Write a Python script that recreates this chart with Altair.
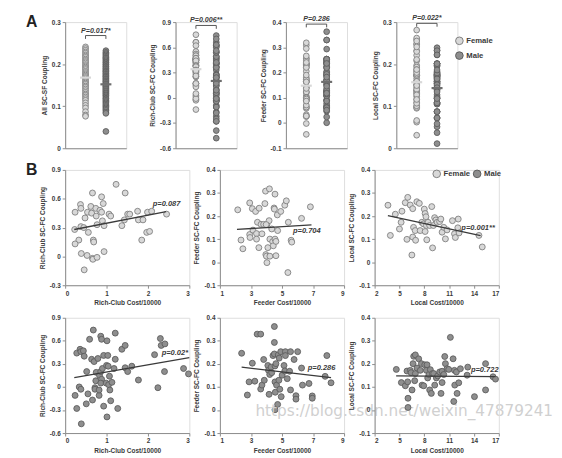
import altair as alt
import pandas as pd

# ---------------- data ----------------
# Panel A: strip plots (Female / Male)
all_female = [0.241, 0.237, 0.233, 0.229, 0.226, 0.222, 0.219, 0.216, 0.212, 0.209, 0.206, 0.203,
              0.199, 0.196, 0.193, 0.190, 0.187, 0.183, 0.180, 0.177, 0.174, 0.171, 0.168, 0.165,
              0.161, 0.158, 0.155, 0.152, 0.148, 0.145, 0.141, 0.137, 0.133, 0.129, 0.126, 0.122,
              0.118, 0.114, 0.108, 0.102, 0.096, 0.087, 0.079, 0.076]
all_male = [0.232, 0.228, 0.225, 0.222, 0.219, 0.216, 0.214, 0.211, 0.208, 0.205, 0.203, 0.200,
            0.198, 0.195, 0.193, 0.190, 0.188, 0.185, 0.183, 0.181, 0.178, 0.176, 0.173, 0.171,
            0.169, 0.166, 0.164, 0.161, 0.159, 0.157, 0.154, 0.152, 0.149, 0.147, 0.145, 0.142,
            0.140, 0.137, 0.135, 0.132, 0.130, 0.127, 0.125, 0.122, 0.119, 0.117, 0.114, 0.111,
            0.108, 0.105, 0.102, 0.099, 0.096, 0.093, 0.090, 0.086, 0.083, 0.040]

# Panel B: Female scatter (Rich-Club / Feeder / Local)
rc_f_x = [1.23, 0.66, 1.45, 0.88, 0.37, 0.92, 0.62, 0.74, 0.84, 0.24, 0.54, 0.64, 0.88, 0.38, 0.48,
          0.75, 1.06, 1.10, 1.51, 1.56, 1.75, 1.99, 2.09, 2.45, 1.43, 1.77, 1.88, 0.90, 0.77, 0.94,
          0.38, 0.45, 0.23, 1.37, 0.56, 1.97, 2.04, 0.33, 0.68, 0.69, 0.24, 1.85, 0.39, 0.53, 0.66,
          0.67, 0.77, 0.94, 0.46]
rc_f_y = [0.75, 0.66, 0.66, 0.62, 0.54, 0.55, 0.52, 0.50, 0.48, 0.46, 0.46, 0.45, 0.46, 0.50, 0.40,
          0.42, 0.44, 0.42, 0.44, 0.44, 0.47, 0.46, 0.47, 0.44, 0.38, 0.38, 0.38, 0.37, 0.33, 0.32,
          0.31, 0.30, 0.28, 0.32, 0.25, 0.25, 0.26, 0.17, 0.17, 0.15, 0.13, 0.17, 0.03, 0.01, -0.02,
          -0.03, -0.01, 0.05, -0.14]
fd_f_x = [2.15, 2.92, 2.36, 2.48, 3.09, 3.30, 3.53, 2.92, 2.94, 3.13, 3.42, 3.36, 3.36, 3.51, 3.65,
          3.71, 3.82, 3.90, 3.94, 4.19, 3.96, 4.00, 4.03, 4.09, 4.22, 4.03, 4.17, 4.22, 4.34, 4.40,
          4.44, 4.49, 4.51, 4.55, 4.55, 4.61, 4.61, 4.70, 4.72, 4.92, 5.18, 5.28, 5.41, 5.38, 5.59,
          5.63, 6.26, 6.83, 3.98]
fd_f_y = [0.227, 0.257, 0.096, 0.058, 0.232, 0.220, 0.234, 0.120, 0.107, 0.139, 0.173, 0.124, 0.100,
          0.063, 0.164, 0.123, 0.164, 0.254, 0.308, 0.318, 0.033, 0.026, -0.002, 0.063, 0.026, 0.164,
          0.180, 0.100, 0.144, 0.089, 0.071, 0.235, 0.230, 0.295, 0.100, 0.028, 0.090, 0.205, 0.137,
          0.220, 0.247, 0.266, 0.173, -0.045, 0.095, 0.087, 0.190, 0.240, 0.163]
lc_f_x = [3.61, 3.9, 4.5, 5.3, 5.0, 5.2, 5.7, 5.9, 6.0, 6.3, 6.6, 6.5, 6.6, 6.7, 6.9, 6.95, 7.1, 7.4,
          7.5, 7.7, 7.9, 8.0, 8.1, 8.1, 8.2, 8.25, 8.3, 8.45, 8.65, 8.9, 9.0, 9.1, 9.25, 9.4, 9.55,
          9.85, 10.0, 10.15, 10.35, 10.55, 10.75, 11.4, 11.65, 11.75, 12.1, 12.05, 12.2, 14.6, 15.0]
lc_f_y = [0.247, 0.116, 0.208, 0.221, 0.144, 0.173, 0.258, 0.099, 0.281, 0.248, 0.232, 0.031, 0.109,
          0.151, 0.137, 0.095, 0.262, 0.255, 0.137, 0.173, 0.166, 0.23, 0.211, 0.133, 0.197, 0.159,
          0.097, 0.173, 0.159, 0.241, 0.062, 0.159, 0.193, 0.183, 0.173, 0.176, 0.187, 0.13, 0.151,
          0.101, 0.14, 0.18, 0.123, 0.107, 0.187, 0.149, 0.127, 0.116, 0.066]

# Panel B: Male scatter
rc_m_x = [0.24, 0.28, 0.28, 0.36, 0.38, 0.44, 0.46, 0.34, 0.38, 0.39, 0.52, 0.55, 0.51, 0.59, 0.64,
          0.66, 0.68, 0.70, 0.72, 0.72, 0.74, 0.75, 0.79, 0.82, 0.82, 0.83, 0.86, 0.88, 0.86, 0.88,
          0.86, 0.90, 0.93, 0.93, 0.99, 1.01, 1.03, 1.00, 1.01, 1.04, 1.05, 1.07, 1.08, 1.10, 1.13,
          1.18, 1.21, 1.21, 1.27, 1.37, 1.45, 1.45, 1.51, 1.61, 1.77, 2.16, 2.24, 2.30, 2.32, 2.41,
          2.40, 2.86, 2.98]
rc_m_y = [-0.11, -0.28, 0.44, 0.49, 0.46, 0.47, 0.40, 0.00, -0.03, -0.48, 0.20, -0.09, -0.22, 0.62,
          0.36, -0.17, 0.74, 0.33, -0.01, -0.03, 0.08, 0.19, 0.37, -0.11, -0.04, 0.15, 0.66, 0.62,
          0.20, 0.10, 0.05, 0.24, -0.25, 0.41, 0.05, 0.60, 0.41, 0.28, -0.39, 0.27, 0.03, 0.14, -0.04,
          -0.18, 0.06, 0.24, 0.70, 0.36, -0.28, 0.49, 0.54, 0.25, 0.20, 0.27, 0.09, 0.42, -0.01, 0.63,
          0.54, 0.56, 0.20, 0.24, 0.17]
fd_m_x = [2.4, 2.77, 2.88, 3.09, 3.25, 3.4, 3.63, 3.63, 3.71, 3.82, 3.86, 4.09, 4.13, 4.17, 4.21,
          4.3, 4.34, 4.42, 4.51, 4.51, 4.51, 4.55, 4.55, 4.57, 4.55, 4.61, 4.65, 4.72, 4.76, 4.8,
          4.82, 4.86, 4.92, 4.95, 5.01, 5.13, 5.18, 5.22, 5.22, 5.34, 5.49, 5.55, 5.55, 5.78, 5.9,
          5.9, 6.01, 6.26, 6.32, 6.74, 6.95, 6.95, 7.78, 7.89, 8.16]
fd_m_y = [0.246, 0.065, 0.122, 0.203, 0.125, 0.329, 0.329, 0.091, 0.108, 0.219, 0.129, 0.193, 0.172,
          0.068, 0.154, 0.186, 0.162, 0.236, 0.362, 0.293, 0.243, 0.191, 0.122, 0.077, 0.001, 0.201,
          0.108, 0.024, 0.239, 0.129, 0.225, 0.09, 0.253, 0.058, 0.151, 0.193, 0.169, 0.253, 0.236,
          0.136, 0.168, 0.253, 0.087, 0.219, 0.062, 0.047, 0.253, 0.182, 0.108, 0.115, 0.061, 0.051,
          0.146, 0.236, 0.118]
lc_m_x = [4.62, 5.23, 5.71, 5.91, 5.99, 6.03, 6.03, 6.31, 6.4, 6.52, 6.64, 6.72, 6.92, 6.84, 6.92,
          7.12, 7.32, 7.52, 7.65, 7.73, 7.93, 8.05, 8.25, 8.33, 8.41, 8.57, 8.65, 8.73, 8.85, 8.98,
          9.14, 9.26, 9.46, 9.62, 9.86, 10.15, 10.02, 10.15, 10.35, 10.47, 10.55, 10.75, 10.95, 11.15,
          11.48, 11.56, 11.64, 11.68, 11.88, 11.96, 12.16, 12.36, 13.17, 13.25, 14.06, 15.4, 15.4,
          16.3, 16.6]
lc_m_y = [0.176, 0.119, 0.105, 0.169, 0.122, 0.051, 0.011, 0.172, 0.162, 0.087, 0.201, 0.233, 0.239,
          0.127, 0.158, 0.182, 0.222, 0.172, 0.201, 0.108, 0.105, 0.196, 0.172, 0.196, 0.139, 0.154,
          0.087, 0.175, 0.072, 0.158, 0.158, 0.108, 0.139, 0.148, 0.165, 0.119, 0.072, 0.168, 0.154,
          0.232, 0.201, 0.179, 0.176, 0.315, 0.222, 0.037, 0.172, 0.108, 0.165, 0.072, 0.118, 0.179,
          0.151, 0.186, 0.058, 0.201, 0.087, 0.144, 0.134]

# strip-panel settings
strip_titles = ["All SC-SF Coupling", "Rich-Club SC-FC Coupling", "Feeder SC-FC Coupling", "Local SC-FC Coupling"]
strip_domains = [[0, 0.3], [-0.6, 0.9], [-0.1, 0.4], [0, 0.3]]
strip_ticks = [[0, 0.1, 0.2, 0.3], [-0.6, -0.3, 0, 0.3, 0.6, 0.9], [-0.1, 0, 0.1, 0.2, 0.3, 0.4], [0, 0.1, 0.2, 0.3]]
strip_mean_f = [0.168, 0.34, 0.148, 0.157]
strip_mean_m = [0.152, 0.20, 0.163, 0.143]
strip_p = ["P=0.017*", "P=0.006**", "P=0.286", "P=0.022*"]
bracket_y = [0.268, 0.86, 0.392, 0.297]
bracket_drop = [0.008, 0.04, 0.013, 0.008]

# regression fits and p labels for scatter panels
fit_rc_f = ([0.22, 2.44], [0.28, 0.465]); p_rc_f = ("p=0.087", 2.45, 0.55)
fit_fd_f = ([2.1, 6.9], [0.142, 0.162]); p_fd_f = ("p=0.704", 6.6, 0.135)
fit_lc_f = ([3.6, 14.8], [0.202, 0.115]); p_lc_f = ("p=0.001**", 14.5, 0.147)
fit_rc_m = ([0.22, 3.0], [0.12, 0.38]); p_rc_m = ("p=0.02*", 2.65, 0.44)
fit_fd_m = ([2.4, 8.16], [0.186, 0.14]); p_fd_m = ("p=0.286", 7.55, 0.182)
fit_lc_m = ([4.6, 16.6], [0.148, 0.145]); p_lc_m = ("p=0.722", 15.3, 0.172)

# ---------------- style ----------------
FONT = "Liberation Sans"
TXT = "#3a3a3a"
AX = "#8c8c8c"
F_FILL, F_STROKE = "#d8d8d8", "#808080"
M_FILL, M_STROKE = "#8e8e8e", "#5c5c5c"
YLAB = "datum.value == 0 ? '0' : (datum.value < 0 ? '-' : '') + format(abs(datum.value), '.1f')"


def yaxis(ticks, title):
    return alt.Axis(values=ticks, title=title, labelExpr=YLAB, grid=False,
                    labelFont=FONT, labelFontSize=6.5, labelFontWeight="bold", labelColor=TXT,
                    titleFont=FONT, titleFontSize=6.6, titleFontWeight="bold", titleColor=TXT,
                    domainColor=AX, tickColor=AX, tickSize=3, labelPadding=2, titlePadding=4)


def xaxis_b(ticks, title):
    return alt.Axis(values=ticks, title=title, format="d", grid=False,
                    labelFont=FONT, labelFontSize=6.5, labelFontWeight="bold", labelColor=TXT,
                    titleFont=FONT, titleFontSize=6.6, titleFontWeight="bold", titleColor=TXT,
                    domainColor=AX, tickColor=AX, tickSize=3, labelPadding=2, titlePadding=3)


def letter(ch, visible=True):
    return alt.Chart(pd.DataFrame({"t": [ch]})).mark_text(
        font=FONT, fontSize=16, fontWeight="bold", color="#222222", align="center", baseline="middle",
        opacity=1 if visible else 0
    ).encode(x=alt.value(-34), y=alt.value(0), text="t:N")


def legend_layers(positions):
    layers = []
    for (lab, fill, stroke, px, py) in positions:
        d = pd.DataFrame({"t": [lab]})
        layers.append(alt.Chart(d).mark_circle(size=60, fill=fill, stroke=stroke, strokeWidth=1, opacity=1)
                      .encode(x=alt.value(px), y=alt.value(py)))
        layers.append(alt.Chart(d).mark_text(font=FONT, fontSize=7.8, fontWeight="bold", color=TXT,
                                             align="left", baseline="middle")
                      .encode(x=alt.value(px + 7), y=alt.value(py), text="t:N"))
    return layers


def strip_panel(k, female, male, extra=()):
    xs = alt.Scale(domain=[0, 3], nice=False, zero=False)
    ys = alt.Scale(domain=strip_domains[k], nice=False, zero=False)
    X = alt.X("g:Q", scale=xs, axis=alt.Axis(ticks=False, labels=False, title=None, grid=False, domainColor=AX))
    Y = alt.Y("v:Q", scale=ys, axis=yaxis(strip_ticks[k], strip_titles[k]))
    df_f = pd.DataFrame({"g": [1] * len(female), "v": female})
    df_m = pd.DataFrame({"g": [2] * len(male), "v": male})
    pf = alt.Chart(df_f).mark_circle(size=34, fill=F_FILL, stroke=F_STROKE, strokeWidth=0.9, opacity=1, clip=True).encode(x=X, y=Y)
    pm = alt.Chart(df_m).mark_circle(size=34, fill=M_FILL, stroke=M_STROKE, strokeWidth=0.9, opacity=1, clip=True).encode(x=X, y=Y)
    means = pd.DataFrame({"g": [0.73, 1.73], "g2": [1.27, 2.27], "v": [strip_mean_f[k], strip_mean_m[k]],
                          "c": [F_FILL, "#6e6e6e"]})
    mr = alt.Chart(means).mark_rule(strokeWidth=2.2).encode(
        x=X, x2="g2:Q", y=Y, color=alt.Color("c:N", scale=None))
    yb, dd = bracket_y[k], bracket_drop[k]
    br = pd.DataFrame({"g": [1, 1, 2, 2], "v": [yb - dd, yb, yb, yb - dd], "o": [0, 1, 2, 3]})
    brl = alt.Chart(br).mark_line(color="#555555", strokeWidth=1).encode(x=X, y=Y, order="o:Q")
    pt = alt.Chart(pd.DataFrame({"g": [1.5], "v": [yb], "t": [strip_p[k]]})).mark_text(
        font=FONT, fontSize=7.2, fontWeight="bold", fontStyle="italic", color=TXT, baseline="bottom", dy=-1
    ).encode(x=X, y=Y, text="t:N")
    return alt.layer(pf, pm, mr, brl, pt, *extra).properties(width=62, height=128)


def scatter_panel(xv, yv, male, xdom, xticks, xtitle, ydom, yticks, ytitle, fit, plab, extra=()):
    xs = alt.Scale(domain=xdom, nice=False, zero=False)
    ys = alt.Scale(domain=ydom, nice=False, zero=False)
    X = alt.X("x:Q", scale=xs, axis=xaxis_b(xticks, xtitle))
    Y = alt.Y("y:Q", scale=ys, axis=yaxis(yticks, ytitle))
    fill, stroke = (M_FILL, M_STROKE) if male else (F_FILL, F_STROKE)
    pts = alt.Chart(pd.DataFrame({"x": xv, "y": yv})).mark_circle(
        size=36, fill=fill, stroke=stroke, strokeWidth=0.9, opacity=1).encode(x=X, y=Y)
    ln = alt.Chart(pd.DataFrame({"x": fit[0], "y": fit[1]})).mark_line(
        color="#3a3a3a", strokeWidth=1.3).encode(x=X, y=Y)
    tx = alt.Chart(pd.DataFrame({"x": [plab[1]], "y": [plab[2]], "t": [plab[0]]})).mark_text(
        font=FONT, fontSize=7.6, fontWeight="bold", fontStyle="italic", color=TXT, baseline="middle"
    ).encode(x=X, y=Y, text="t:N")
    return alt.layer(pts, ln, tx, *extra).properties(width=126, height=117)


# ---------------- panels ----------------
a1 = strip_panel(0, all_female, all_male, extra=(letter("A"),))
a2 = strip_panel(1, rc_f_y, rc_m_y)
a3 = strip_panel(2, fd_f_y, fd_m_y)
a4 = strip_panel(3, lc_f_y, lc_m_y, extra=tuple(legend_layers([
    ("Female", F_FILL, F_STROKE, 64, 19), ("Male", M_FILL, M_STROKE, 64, 34)])))

rc_ticks_x = [0, 1, 2, 3]
fd_ticks_x = [1, 3, 5, 7, 9]
lc_ticks_x = [2, 5, 8, 11, 14, 17]
fl_ticks_y = [-0.1, 0, 0.1, 0.2, 0.3, 0.4]

b1 = scatter_panel(rc_f_x, rc_f_y, False, [0, 3], rc_ticks_x, "Rich-Club Cost/10000",
                   [-0.3, 0.9], [-0.3, 0, 0.3, 0.6, 0.9], "Rich-Club SC-FC Coupling", fit_rc_f, p_rc_f,
                   extra=(letter("B"),))
b2 = scatter_panel(fd_f_x, fd_f_y, False, [1, 9], fd_ticks_x, "Feeder Cost/10000",
                   [-0.1, 0.4], fl_ticks_y, "Feeder SC-FC Coupling", fit_fd_f, p_fd_f)
b3 = scatter_panel(lc_f_x, lc_f_y, False, [2, 17], lc_ticks_x, "Local Cost/10000",
                   [-0.1, 0.4], fl_ticks_y, "Local SC-FC Coupling", fit_lc_f, p_lc_f,
                   extra=tuple(legend_layers([("Female", F_FILL, F_STROKE, 63, 4),
                                              ("Male", M_FILL, M_STROKE, 104, 4)])))

watermark = alt.Chart(pd.DataFrame({"t": ["https://blog.csdn.net/weixin_47879241"]})).mark_text(
    font="DejaVu Sans", fontSize=15.5, color="#d0d0d0", align="left", baseline="middle"
).encode(x=alt.value(36), y=alt.value(95), text="t:N")

c1 = scatter_panel(rc_m_x, rc_m_y, True, [0, 3], rc_ticks_x, "Rich-Club Cost/10000",
                   [-0.6, 0.9], [-0.6, -0.3, 0, 0.3, 0.6, 0.9], "Rich-Club SC-FC  Coupling", fit_rc_m, p_rc_m,
                   extra=(letter("B", visible=False),))
c2 = scatter_panel(fd_m_x, fd_m_y, True, [1, 9], fd_ticks_x, "Feeder Cost/10000",
                   [-0.1, 0.4], fl_ticks_y, "Feeder SC-FC Coupling", fit_fd_m, p_fd_m, extra=(watermark,))
c3 = scatter_panel(lc_m_x, lc_m_y, True, [2, 17], lc_ticks_x, "Local Cost/10000",
                   [-0.1, 0.4], fl_ticks_y, "Local SC-FC  Coupling", fit_lc_m, p_lc_m)

rowA = alt.hconcat(a1, a2, a3, a4, spacing=50, bounds="flush")
rowB1 = alt.hconcat(b1, b2, b3, spacing=31, bounds="flush")
rowB2 = alt.hconcat(c1, c2, c3, spacing=31, bounds="flush")

chart = alt.vconcat(rowA, alt.vconcat(rowB1, rowB2, spacing=2), spacing=9).properties(
    padding={"left": 17, "top": 2, "right": 0, "bottom": 0}
).configure_view(stroke=None, strokeWidth=0).configure(background="white")

chart.save("out.html", embed_options={"renderer": "svg", "actions": False})
